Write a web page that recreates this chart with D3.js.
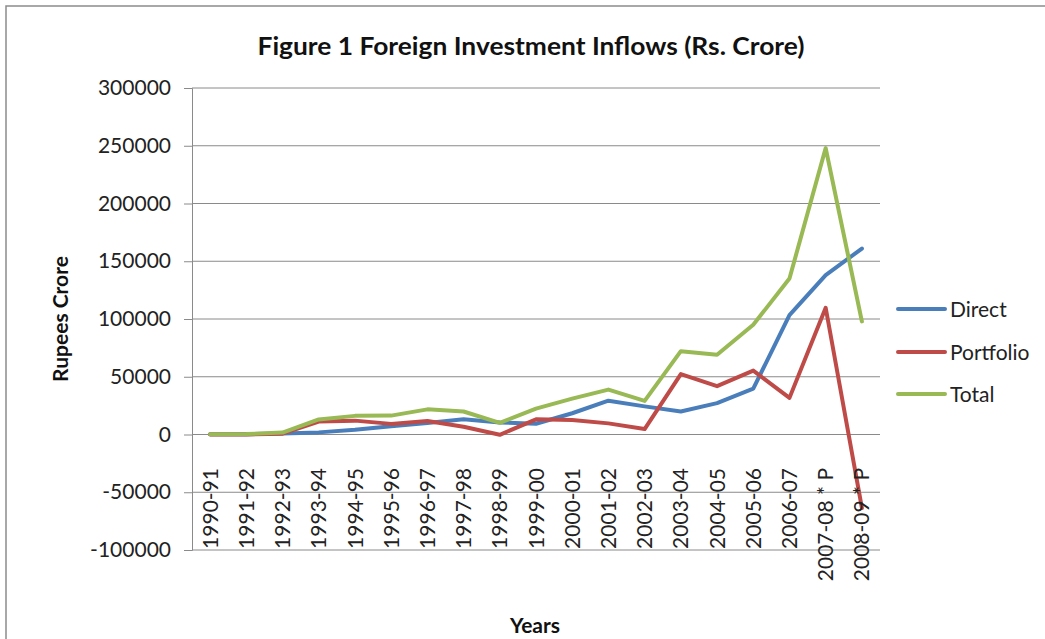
<!DOCTYPE html>
<html>
<head>
<meta charset="utf-8">
<script src="https://cdn.jsdelivr.net/npm/d3@7"></script>
<style>
  html, body { margin: 0; padding: 0; background: #fff; }
  svg { display: block; font-family: Lato, "Open Sans", sans-serif; }
</style>
</head>
<body>
<svg id="chart" width="1045" height="639"></svg>
<script>
const categories = ["1990-91","1991-92","1992-93","1993-94","1994-95","1995-96","1996-97","1997-98","1998-99","1999-00","2000-01","2001-02","2002-03","2003-04","2004-05","2005-06","2006-07","2007-08 * P","2008-09 * P"];
const directValues = [174, 316, 965, 1838, 4126, 7172, 10015, 13220, 10358, 9338, 18406, 29235, 24367, 19860, 27188, 39674, 103367, 138000, 161000];
const portfolioValues = [11, 10, 748, 11188, 12007, 9192, 11758, 6696, -257, 13112, 12609, 9639, 4738, 52279, 41854, 55307, 31713, 109741, -63618];
const totalValues = [185, 326, 1713, 13026, 16133, 16364, 21773, 19916, 10101, 22450, 31015, 38874, 29105, 72139, 69042, 94981, 135080, 248000, 97918];
const yTicks = [-100000, -50000, 0, 50000, 100000, 150000, 200000, 250000, 300000];
const seriesNames = ["Direct", "Portfolio", "Total"];
const seriesColors = ["#4A7EBB", "#BE4B48", "#98B954"];

const series = [
  { name: seriesNames[0], values: directValues, color: seriesColors[0] },
  { name: seriesNames[1], values: portfolioValues, color: seriesColors[1] },
  { name: seriesNames[2], values: totalValues, color: seriesColors[2] }
];

const svg = d3.select("#chart");
const plot = { left: 192, right: 880, top: 88, bottom: 550 };

// chart border (top/left visible)
svg.append("rect").attr("x", 6).attr("y", 6).attr("width", 1060).attr("height", 660)
  .attr("fill", "none").attr("stroke", "#8c8c8c").attr("stroke-width", 1.5);

const x = d3.scalePoint().domain(categories).range([plot.left, plot.right]).padding(0.5);
const y = d3.scaleLinear().domain([-100000, 300000]).range([plot.bottom, plot.top]);

// gridlines
svg.append("g").selectAll("line").data(yTicks).join("line")
  .attr("x1", plot.left).attr("x2", plot.right)
  .attr("y1", d => y(d)).attr("y2", d => y(d))
  .attr("stroke", "#8a8a8a").attr("stroke-width", 1);

// y axis
const yAxis = d3.axisLeft(y).tickValues(yTicks).tickSize(8).tickPadding(13).tickFormat(d => String(d));
const yg = svg.append("g").attr("transform", `translate(${plot.left},0)`).call(yAxis);
yg.select(".domain").attr("stroke", "#8a8a8a");
yg.selectAll(".tick line").attr("stroke", "#8a8a8a");
yg.selectAll(".tick text").attr("font-size", 21).attr("fill", "#222").attr("font-family", "Lato, sans-serif");

// x axis line at 0
svg.append("line").attr("x1", plot.left).attr("x2", plot.right)
  .attr("y1", y(0)).attr("y2", y(0)).attr("stroke", "#8a8a8a").attr("stroke-width", 1);

// lines
const line = d3.line().x((d, i) => x(categories[i])).y(d => y(d));
svg.append("g").selectAll("path").data(series).join("path")
  .attr("d", d => line(d.values))
  .attr("fill", "none").attr("stroke", d => d.color)
  .attr("stroke-width", 4).attr("stroke-linejoin", "round").attr("stroke-linecap", "round");

// x labels
svg.append("g").selectAll("text").data(categories).join("text")
  .attr("transform", d => `translate(${x(d)},468) rotate(-90)`)
  .attr("text-anchor", "end").attr("dy", "0.36em")
  .attr("font-size", 21).attr("fill", "#222")
  .text(d => d);

// title
svg.append("text").attr("x", 531).attr("y", 55).attr("text-anchor", "middle")
  .attr("font-size", 25).attr("font-weight", "bold").attr("fill", "#111")
  .attr("textLength", 547).attr("lengthAdjust", "spacingAndGlyphs")
  .text("Figure 1 Foreign Investment Inflows (Rs. Crore)");

// axis titles
svg.append("text").attr("transform", "translate(68,319) rotate(-90)").attr("text-anchor", "middle")
  .attr("font-size", 21).attr("font-weight", "bold").attr("fill", "#111").text("Rupees Crore");
svg.append("text").attr("x", 535).attr("y", 633).attr("text-anchor", "middle")
  .attr("font-size", 21).attr("font-weight", "bold").attr("fill", "#111").text("Years");

// legend
const legendY = [309, 352, 394];
const lg = svg.append("g").selectAll("g").data(series).join("g")
  .attr("transform", (d, i) => `translate(898,${legendY[i]})`);
lg.append("line").attr("x1", 0).attr("x2", 47).attr("stroke", d => d.color)
  .attr("stroke-width", 4).attr("stroke-linecap", "round");
lg.append("text").attr("x", 52).attr("dy", "0.36em").attr("font-size", 21).attr("fill", "#222")
  .text(d => d.name);
</script>
</body>
</html>
